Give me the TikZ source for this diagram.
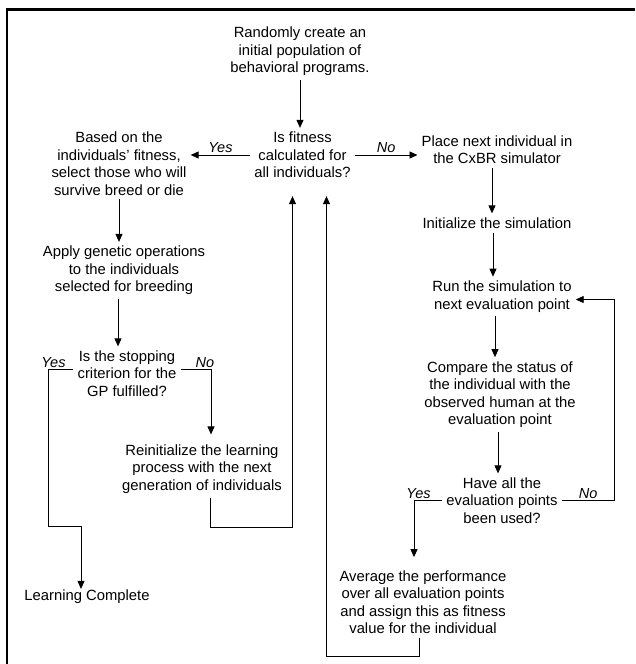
\documentclass[tikz,border=0pt]{standalone}
\usepackage{fontspec}
\setmainfont{Liberation Sans}
\usetikzlibrary{arrows.meta}

\begin{document}
\begin{tikzpicture}[
      x=1pt, y=-1pt,
      txt/.style={align=center, inner sep=4pt, font=\fontsize{14.8}{17.5}\selectfont},
      lbl/.style={inner sep=1.5pt, font=\fontsize{14.5}{17}\selectfont\itshape},
      arr/.style={-{Triangle[length=8pt,width=7pt]}, line width=0.9pt},
      frame/.style={line width=2.5pt}
    ]
    \useasboundingbox (0,0) rectangle (635,664);
    \draw[frame] (635,9.7) -- (7,9.7) -- (7,664);

    \node[txt] (start)  at (300,51.5)  {Randomly create an\\initial population of\\behavioral programs.};
    \node[txt] (fit)    at (302.5,155) {Is fitness\\calculated for\\all individuals?};
    \node[txt] (sel)    at (119,163.5) {Based on the\\individuals' fitness,\\select those who will\\survive breed or die};
    \node[txt] (app)    at (124,270.5) {Apply genetic operations\\to the individuals\\selected for breeding};
    \node[txt] (stop)   at (127,373.5) {Is the stopping\\criterion for the\\GP fulfilled?};
    \node[txt] (reinit) at (202,469)   {Reinitialize the learning\\process with the next\\generation of individuals};
    \node[txt] (done)   at (87,597)    {Learning Complete};
    \node[txt] (place)  at (497,149.5) {Place next individual in\\the CxBR simulator};
    \node[txt] (init)   at (497,223)   {Initialize the simulation};
    \node[txt] (run)    at (502,296.5) {Run the simulation to\\next evaluation point};
    \node[txt] (cmp)    at (500,394.5) {Compare the status of\\the individual with the\\observed human at the\\evaluation point};
    \node[txt] (have)   at (502,500.5) {Have all the\\evaluation points\\been used?};
    \node[txt] (avg)    at (423,602)   {Average the performance\\over all evaluation points\\and assign this as fitness\\value for the individual};

    \draw[arr] (start.south) -- (start.south |- fit.north);
    \draw[arr] (fit.west) -- node[lbl,above]{Yes} (fit.west -| sel.east);
    \draw[arr] (fit.east) -- node[lbl,above]{No} (fit.east -| place.west);

    \draw[arr] (sel.south) -- (sel.south |- app.north);
    \draw[arr] ([xshift=-6pt]app.south) -- ([xshift=-6pt]app.south |- stop.north);
    \draw[arr] ([yshift=4pt]stop.west) -| node[lbl,above,pos=0.4]{Yes} ++(-25,157)
               -| ([xshift=-6pt,yshift=-3pt]done.north);
    \draw[arr] ([yshift=4pt]stop.east) -| node[lbl,above,pos=0.4]{No} ([xshift=9pt,yshift=6pt]reinit.north);
    \draw[arr] ([xshift=8pt]reinit.south) -- ++(0,30) -| ([xshift=-10pt,yshift=-14pt]fit.south);

    \draw[arr] ([xshift=-5pt]place.south) -- ([xshift=-5pt]place.south |- init.north);
    \draw[arr] ([xshift=-4pt]init.south) -- ([xshift=-4pt]init.south |- run.north);
    \draw[arr] ([xshift=-7pt]run.south) -- ([xshift=-7pt]run.south |- cmp.north);
    \draw[arr] ([xshift=-2pt]cmp.south) -- ([xshift=-2pt]cmp.south |- have.north);
    \draw[arr] (have.east) -- ++(53,0) node[lbl,above,midway]{No} |- ([yshift=-3pt]run.east);
    \draw[arr] (have.west) -| node[lbl,above,pos=0.42]{Yes} ([xshift=-9pt,yshift=9pt]avg.north);
    \draw[arr] ([xshift=-4pt]avg.south) -- ++(0,19) -| ([xshift=24pt,yshift=-14pt]fit.south);
  \end{tikzpicture}
\end{document}
